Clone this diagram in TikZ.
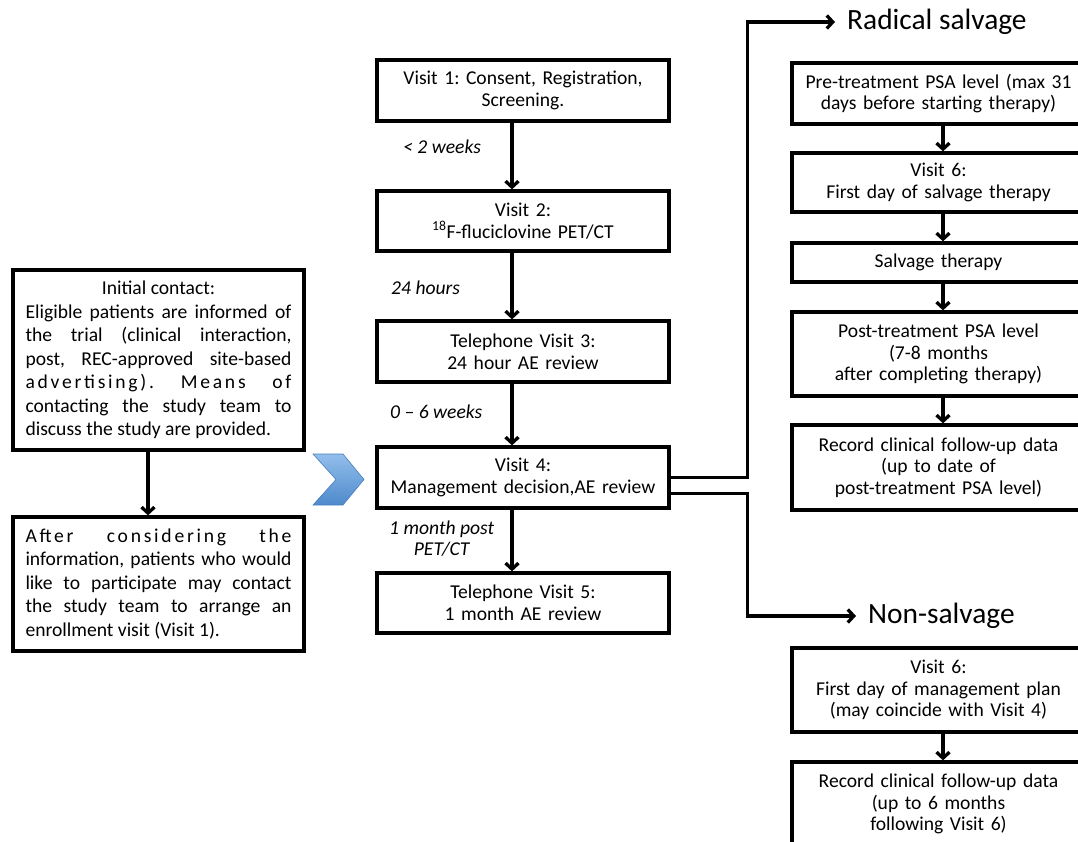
\documentclass[tikz,border=0pt]{standalone}
\usepackage{fontspec}
\setmainfont{Carlito}
\frenchspacing
\usetikzlibrary{arrows.meta,positioning,calc}

\newcommand{\boxfont}{\fontsize{19.6}{21.7}\selectfont}
\newcommand{\leftfont}{\fontsize{19.6}{23.5}\selectfont}
\newcommand{\titlefont}{\fontsize{29.4}{32}\selectfont}
\newcommand{\wide}[1]{{\addfontfeature{LetterSpace=14}#1}}

\definecolor{chevtop}{RGB}{146,190,235}
\definecolor{chevbot}{RGB}{78,138,204}
\definecolor{chevline}{RGB}{74,126,187}

\tikzset{
  >={Straight Barb[length=6pt,width=13pt]},
  box/.style={draw, line width=3.3pt, inner sep=0pt, align=center, font=\boxfont},
  midbox/.style={box, minimum width=292pt, text width=282pt},
  sidebox/.style={box, minimum width=293pt, text width=282pt},
  leftbox/.style={box, minimum width=291pt, text width=266pt, align=justify, font=\leftfont},
  gap/.style={anchor=west, inner sep=0pt, font=\boxfont\itshape, align=center},
  title/.style={anchor=west, inner sep=0pt, font=\titlefont},
  flow/.style={->, line width=3.3pt}
}

\begin{document}
\begin{tikzpicture}[x=1pt, y=-1pt]
\useasboundingbox (0,0) rectangle (1078,842);
\clip (0,0) rectangle (1078,842);

\node[leftbox, minimum height=180pt] (contact) at (158.5,360) {\noindent\makebox[\linewidth]{Initial contact:}\par\noindent
Eligible patients are informed of\linebreak
the trial (clinical interaction,\linebreak
post, REC-approved site-based\linebreak
\wide{advertising). Means of}\linebreak
contacting the study team to\linebreak
discuss the study are provided.};
\node[leftbox, minimum height=134pt] (enrol) at (158.5,584) {\noindent
\wide{After considering the}\linebreak
information, patients who would\linebreak
like to participate may contact\linebreak
the study team to arrange an\linebreak
enrollment visit (Visit 1).};

\shade[top color=chevtop, bottom color=chevbot, draw=chevline, line width=0.6pt]
  (313,454) -- (343,454) -- (364,479.5) -- (343,505) -- (313,505) -- (336,479.5) -- cycle;

\node[midbox, minimum height=61pt] (v1) at (523,90.5) {Visit 1: Consent, Registration,\\Screening.};
\node[midbox, minimum height=60pt] (v2) at (523,221) {Visit 2:\\\textsuperscript{18}F-fluciclovine PET/CT};
\node[midbox, minimum height=61pt] (v3) at (523,351.5) {Telephone Visit 3:\\24 hour AE review};
\node[midbox, minimum height=61pt] (v4) at (523,477.5) {Visit 4:\\Management decision,AE review};
\node[midbox, minimum height=60pt] (v5) at (523,603) {Telephone Visit 5:\\1 month AE review};

\coordinate (spine) at (512,0);
\coordinate (leftspine) at (148,0);

\node[gap] (w12) at (403,147) {< 2 weeks};
\node[gap] (w23) at (391,288) {24 hours};
\node[gap] (w34) at (390,412) {0 – 6 weeks};
\node[gap] (w45) at (389,538.5) {1 month post\\PET/CT};

\node[title] (radical) at (847,22) {Radical salvage};
\node[title] (nonsalv) at (868,616) {Non-salvage};

\node[sidebox, minimum height=61pt] (r1) at (938.5,93.5) {Pre-treatment PSA level (max 31\\days before starting therapy)};
\node[sidebox, minimum height=59pt] (r2) at (938.5,182.5) {Visit 6:\\First day of salvage therapy};
\node[sidebox, minimum height=39pt] (r3) at (938.5,262.5) {Salvage therapy};
\node[sidebox, minimum height=84pt] (r4) at (938.5,354) {Post-treatment PSA level\\(7-8 months\\after completing therapy)};
\node[sidebox, minimum height=85pt] (r5) at (938.5,467.5) {Record clinical follow-up data\\(up to date of\\post-treatment PSA level)};

\node[sidebox, minimum height=84pt] (n1) at (938.5,690) {Visit 6:\\First day of management plan\\(may coincide with Visit 4)};
\node[sidebox, minimum height=84pt] (n2) at (938.5,804) {Record clinical follow-up data\\(up to 6 months\\following Visit 6)};

\coordinate (rspine) at (943,0);

\draw[flow] (contact.south -| leftspine) -- (enrol.north -| leftspine);

\draw[flow] (v1.south -| spine) -- (v2.north -| spine);
\draw[flow] (v2.south -| spine) -- (v3.north -| spine);
\draw[flow] (v3.south -| spine) -- (v4.north -| spine);
\draw[flow] (v4.south -| spine) -- (v5.north -| spine);

\draw[flow, shorten >=12pt] (v4.east) -- ++(77,0) |- (radical.west);
\draw[flow, shorten >=12pt] ([yshift=-16pt]v4.east) -- ++(77,0) |- (nonsalv.west);

\draw[flow] (r1.south -| rspine) -- (r2.north -| rspine);
\draw[flow] (r2.south -| rspine) -- (r3.north -| rspine);
\draw[flow] (r3.south -| rspine) -- (r4.north -| rspine);
\draw[flow] (r4.south -| rspine) -- (r5.north -| rspine);
\draw[flow] (n1.south -| rspine) -- (n2.north -| rspine);
\end{tikzpicture}
\end{document}
